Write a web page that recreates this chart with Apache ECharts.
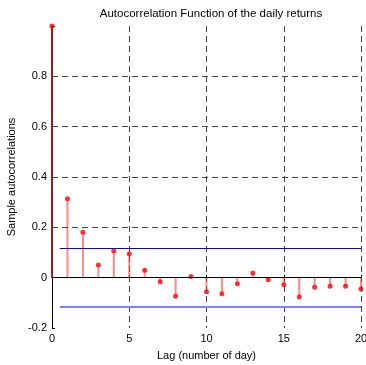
<!DOCTYPE html>
<html><head><meta charset="utf-8">
<script src="https://cdn.jsdelivr.net/npm/echarts@6/dist/echarts.min.js"></script>
<style>html,body{margin:0;padding:0;background:#fff}#c{width:366px;height:365px}</style>
</head><body><div id="c"></div>
<script>
const lags = [0,1,2,3,4,5,6,7,8,9,10,11,12,13,14,15,16,17,18,19,20];
const acf = [1.0,0.314,0.180,0.050,0.106,0.095,0.029,-0.016,-0.074,0.005,-0.056,-0.064,-0.024,0.019,-0.008,-0.028,-0.077,-0.038,-0.034,-0.034,-0.045];
const bound = 0.115;
const yGrid = [0.2,0.4,0.6,0.8];
const yTicks = [-0.2,0,0.2,0.4,0.6,0.8];
const title = 'Autocorrelation Function of the daily returns';
const xName = 'Lag (number of day)';
const yName = 'Sample autocorrelations';

const font = 'Liberation Sans, Arial, sans-serif';
const pts = lags.map((l,i)=>[l,acf[i]]);
const chart = echarts.init(document.getElementById('c'));
chart.setOption({
  animation:false,
  title:{text:title,left:206,top:3,textAlign:'center',textStyle:{fontFamily:font,fontSize:11.5,fontWeight:'normal',color:'#000'}},
  grid:{left:52,right:5,top:26,bottom:37,containLabel:false,outerBoundsMode:'none'},
  xAxis:{type:'value',min:0,max:20,interval:5,
    name:xName,nameLocation:'middle',nameGap:22,nameTextStyle:{fontFamily:font,fontSize:11,color:'#000'},
    axisLine:{lineStyle:{color:'#000',width:1}},axisTick:{inside:true,length:3,lineStyle:{color:'#000'}},
    axisLabel:{fontFamily:font,fontSize:11,color:'#000',margin:5},
    splitLine:{show:true,lineStyle:{type:[6,4],color:'#444',width:1}}},
  yAxis:{type:'value',min:-0.2,max:1,interval:0.2,
    name:yName,nameLocation:'middle',nameGap:31,nameTextStyle:{fontFamily:font,fontSize:11,color:'#000'},
    axisLine:{show:true,lineStyle:{color:'#000',width:1}},axisTick:{show:true,inside:true,length:3,lineStyle:{color:'#000'}},
    axisLabel:{fontFamily:font,fontSize:11,color:'#000',margin:5,
      formatter:v=>{const r=Math.round(v*10)/10; if(!yTicks.some(t=>Math.abs(t-r)<1e-9)) return ''; return r===0?'0':String(r);}},
    splitLine:{show:false}},
  series:[
    {type:'line',data:[],silent:true,
     markLine:{symbol:'none',silent:true,label:{show:false},
       lineStyle:{type:[6,4],color:'#444',width:1},
       data:yGrid.map(v=>[{coord:[0,v]},{coord:[20,v]}])}},
    {type:'line',data:[],silent:true,
     markLine:{symbol:'none',silent:true,label:{show:false},
       data:[
        [{coord:[0,0],lineStyle:{color:'#000',width:1.2,type:'solid'}},{coord:[20,0]}],
        [{coord:[0.5,bound],lineStyle:{color:'#0000ff',width:1.2,type:'solid'}},{coord:[20,bound]}],
        [{coord:[0.5,-bound],lineStyle:{color:'#7f7fff',width:2,type:'solid'}},{coord:[20,-bound]}]
       ]}},
    {type:'custom',silent:true,data:pts,
     renderItem:(params,api)=>{
       const p0=api.coord([api.value(0),0]);const p1=api.coord([api.value(0),api.value(1)]);
       const first=api.value(0)===0;
       return {type:'line',shape:{x1:p0[0],y1:p0[1],x2:p1[0],y2:p1[1]},
         style:{stroke:first?'rgba(170,20,20,0.95)':'rgba(255,60,60,0.6)',lineWidth:2}};
     },z:3},
    {type:'scatter',data:pts,symbol:'circle',symbolSize:5,itemStyle:{color:'#ff0000'},z:4}
  ]
});
</script></body></html>
